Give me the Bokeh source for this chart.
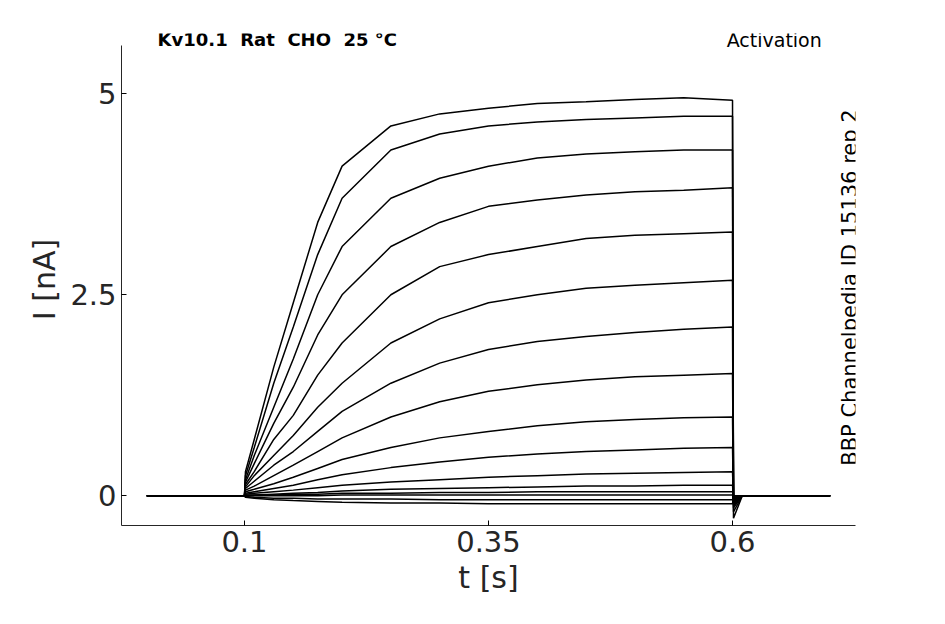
from bokeh.plotting import figure
from bokeh.models import Label, Range1d, FixedTicker
from bokeh.embed import file_html
from bokeh.resources import INLINE
import math

T = [0.0, 0.1, 0.101, 0.11, 0.13, 0.15, 0.175, 0.2, 0.25, 0.3, 0.35, 0.4, 0.45, 0.5, 0.55, 0.6, 0.601, 0.61, 0.7]
traces = [
 [0,0,0.3,0.7,1.6,2.4,3.4,4.1,4.6,4.75,4.82,4.88,4.9,4.93,4.95,4.92,-0.28,0,0],
 [0,0,0.25,0.6,1.4,2.1,3.0,3.7,4.3,4.5,4.6,4.65,4.68,4.7,4.72,4.72,-0.2,0,0],
 [0,0,0.2,0.5,1.1,1.7,2.5,3.1,3.7,3.95,4.1,4.2,4.25,4.28,4.3,4.3,-0.15,0,0],
 [0,0,0.17,0.4,0.9,1.35,2.0,2.5,3.1,3.4,3.6,3.68,3.74,3.78,3.8,3.83,-0.12,0,0],
 [0,0,0.14,0.3,0.7,1.0,1.5,1.9,2.5,2.85,3.0,3.1,3.2,3.24,3.26,3.28,-0.1,0,0],
 [0,0,0.11,0.25,0.5,0.75,1.1,1.4,1.9,2.2,2.4,2.5,2.58,2.62,2.65,2.68,-0.1,0,0],
 [0,0,0.09,0.18,0.38,0.55,0.8,1.05,1.4,1.65,1.82,1.92,1.98,2.03,2.07,2.1,-0.08,0,0],
 [0,0,0.07,0.12,0.25,0.38,0.55,0.72,0.98,1.17,1.3,1.38,1.44,1.48,1.5,1.52,-0.06,0,0],
 [0,0,0.05,0.08,0.15,0.23,0.34,0.45,0.6,0.72,0.8,0.87,0.92,0.95,0.97,0.98,-0.05,0,0],
 [0,0,0.03,0.05,0.09,0.13,0.2,0.26,0.35,0.42,0.48,0.52,0.55,0.57,0.59,0.6,-0.04,0,0],
 [0,0,0.02,0.03,0.05,0.07,0.1,0.13,0.17,0.2,0.23,0.25,0.27,0.28,0.29,0.3,-0.03,0,0],
 [0,0,0.01,0.01,0.02,0.03,0.04,0.06,0.08,0.09,0.1,0.11,0.12,0.12,0.13,0.13,-0.02,0,0],
 [0,0,0,0.01,0.01,0.02,0.02,0.03,0.03,0.04,0.04,0.05,0.05,0.05,0.05,0.05,0,0,0],
 [0,0,0,0,0,0,0,0.01,0.01,0.01,0.01,0.01,0.01,0.01,0.01,0.01,0,0,0],
 [0,0,-0.01,-0.02,-0.03,-0.03,-0.04,-0.04,-0.04,-0.05,-0.05,-0.05,-0.05,-0.05,-0.05,-0.05,0,0,0],
 [0,0,-0.02,-0.03,-0.05,-0.06,-0.07,-0.08,-0.09,-0.09,-0.1,-0.1,-0.1,-0.1,-0.1,-0.1,0,0,0],
]
xticks = [0.1, 0.35, 0.6]
yticks = [0, 2.5, 5]

p = figure(width=930, height=610, output_backend="svg", toolbar_location=None,
           x_range=Range1d(-0.026, 0.726), y_range=Range1d(-0.37, 5.75),
           min_border_left=121, min_border_right=75, min_border_top=33, min_border_bottom=85)
p.outline_line_color = None
p.grid.grid_line_color = None
for tr in traces:
    p.line(T, tr, line_color="black", line_width=1.5)

for ax in (p.xaxis[0], p.yaxis[0]):
    ax.major_label_text_font = "DejaVu Sans"
    ax.major_label_text_font_size = "29px"
    ax.major_label_text_color = "#262626"
    ax.axis_label_text_font = "DejaVu Sans"
    ax.axis_label_text_font_size = "30px"
    ax.axis_label_text_font_style = "normal"
    ax.axis_label_text_color = "#262626"
    ax.minor_tick_line_color = None
    ax.major_tick_in = 5
    ax.major_tick_out = 0
    ax.axis_line_color = "#262626"
p.yaxis[0].bounds = (-0.37, 5.6)
p.xaxis.ticker = FixedTicker(ticks=xticks)
p.yaxis.ticker = FixedTicker(ticks=yticks)
p.xaxis.major_label_overrides = {0.1: "0.1", 0.35: "0.35", 0.6: "0.6"}
p.yaxis.major_label_overrides = {0: "0", 2.5: "2.5", 5: "5"}
p.xaxis.axis_label = "t [s]"
p.yaxis.axis_label = "I [nA]"

nb = "\u00a0"
p.add_layout(Label(x=0.011, y=5.67, text=f"Kv10.1{nb} Rat{nb} CHO{nb} 25 °C", text_font="DejaVu Sans",
                   text_font_style="bold", text_font_size="18px", text_baseline="middle", text_color="black"))
p.add_layout(Label(x=0.594, y=5.67, text="Activation", text_font="DejaVu Sans",
                   text_font_size="19px", text_baseline="middle", text_color="black"))
p.add_layout(Label(x=0.72, y=2.59, text="BBP Channelpedia ID 15136 rep 2", text_font="DejaVu Sans",
                   text_font_size="21px", angle=math.pi/2, text_align="center", text_baseline="middle",
                   text_color="black"))

open("out.html", "w").write(file_html(p, INLINE))
